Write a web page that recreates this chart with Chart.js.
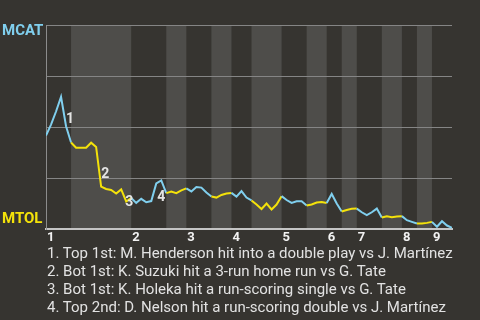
<!DOCTYPE html>
<html>
<head>
<meta charset="utf-8">
<script src="https://cdn.jsdelivr.net/npm/chart.js@4/dist/chart.umd.min.js"></script>
<style>
  html, body { margin: 0; padding: 0; background: #363430; }
  #wrap { position: relative; width: 480px; height: 320px; overflow: hidden; }
  #wpChart { position: absolute; left: 0; top: 0; }
  #notes {
    position: absolute; left: 47px; top: 244px;
    font: 15px Roboto, sans-serif; line-height: 18px; color: #e2e2e2;
    white-space: nowrap;
  }
</style>
</head>
<body>
<div id="wrap">
  <canvas id="wpChart" width="480" height="320"></canvas>
  <div id="notes"></div>
</div>
<script>
// win probability for MCAT (top of chart) after each plate appearance
const winProb = [
  45.8, 51.2, 57.6, 64.8, 50.4, 42.4, 39.8, 39.8, 39.8, 42.3,
  40.2, 20.8, 19.6, 19.1, 17.4, 19.4, 13.5, 15.2, 12.8, 14.8,
  13.1, 13.7, 22.3, 23.8, 17.6, 18.4, 17.6, 18.9, 19.9, 18.4,
  20.6, 20.3, 17.9, 15.9, 15.4, 16.7, 17.4, 17.7, 15.9, 18.6,
  15.4, 14.0, 12.0, 9.8, 12.5, 9.6, 12.0, 16.1, 14.2, 12.8,
  13.6, 13.6, 11.5, 12.0, 13.0, 13.2, 12.7, 17.2, 12.5, 8.6,
  9.3, 9.9, 10.0, 8.2, 6.8, 8.2, 10.0, 5.6, 6.2, 5.8,
  6.1, 6.3, 4.3, 3.5, 2.7, 2.7, 3.0, 3.5, 1.1, 3.8,
  1.7, 0.6
];

// plate appearance index where each half inning starts (top 1st, bot 1st, ...)
const halfStarts = [0, 5, 17, 24, 28, 33, 37, 41, 47, 52, 56, 59, 62, 67, 71, 74, 77, 81];
const innings = ['1', '2', '3', '4', '5', '6', '7', '8', '9'];

const awayTeam = 'MCAT';
const homeTeam = 'MTOL';

const eventIdx = [4, 11, 16, 23];
const eventLabels = ['1', '2', '3', '4'];
const eventNotes = [
  '1. Top 1st: M. Henderson hit into a double play vs J. Martínez',
  '2. Bot 1st: K. Suzuki hit a 3-run home run vs G. Tate',
  '3. Bot 1st: K. Holeka hit a run-scoring single vs G. Tate',
  '4. Top 2nd: D. Nelson hit a run-scoring double vs J. Martínez'
];

const BLUE = '#80cfee';
const YELLOW = '#f4e20a';

function halfOf(i) {
  let k = 0;
  while (k < halfStarts.length - 2 && halfStarts[k + 1] <= i) k++;
  return k;
}

const bandsPlugin = {
  id: 'bands',
  beforeDraw(chart) {
    const { ctx, chartArea: a, scales: { x } } = chart;
    ctx.save();
    ctx.fillStyle = '#363430';
    ctx.fillRect(0, 0, chart.width, chart.height);
    ctx.fillStyle = '#4e4d4a';
    for (let k = 1; k < halfStarts.length - 1; k += 2) {
      const x0 = x.getPixelForValue(halfStarts[k]);
      const x1 = x.getPixelForValue(halfStarts[k + 1]);
      ctx.fillRect(x0, a.top, x1 - x0, a.bottom - a.top);
    }
    ctx.restore();
  }
};

const textPlugin = {
  id: 'texts',
  afterDatasetsDraw(chart) {
    const { ctx, chartArea: a, scales: { x, y } } = chart;
    ctx.save();
    ctx.textBaseline = 'middle';
    ctx.textAlign = 'left';

    // team names
    ctx.font = 'bold 15px Roboto, sans-serif';
    ctx.fillStyle = BLUE;
    ctx.fillText(awayTeam, 2, 31);
    ctx.fillStyle = YELLOW;
    ctx.fillText(homeTeam, 2, 219);

    // inning numbers at start of each top half
    ctx.font = 'bold 13px Roboto, sans-serif';
    ctx.fillStyle = '#f2f2f2';
    innings.forEach((lab, n) => {
      ctx.fillText(lab, x.getPixelForValue(halfStarts[n * 2]) + 1, a.bottom + 9);
    });

    // event markers
    ctx.font = 'bold 14px Roboto, sans-serif';
    ctx.fillStyle = '#e4e4e4';
    const offs = [[0, -7], [0, -12], [-1, 1], [-4, 17]];
    eventIdx.forEach((i, n) => {
      const px = x.getPixelForValue(i);
      const py = y.getPixelForValue(winProb[i]);
      ctx.fillText(eventLabels[n], px + offs[n][0], py + offs[n][1]);
    });
    ctx.restore();
  }
};

document.getElementById('notes').innerHTML = eventNotes.join('<br>');

new Chart(document.getElementById('wpChart'), {
  type: 'line',
  data: {
    datasets: [{
      data: winProb.map((v, i) => ({ x: i, y: v })),
      borderColor: BLUE,
      borderWidth: 2,
      pointRadius: 0,
      tension: 0,
      segment: {
        borderColor: c => (halfOf(c.p0DataIndex) % 2 ? YELLOW : BLUE)
      }
    }]
  },
  options: {
    responsive: false,
    animation: false,
    events: [],
    layout: { padding: { left: 46, top: 25, right: 28, bottom: 91 } },
    plugins: { legend: { display: false }, tooltip: { enabled: false } },
    scales: {
      x: {
        type: 'linear',
        min: 0,
        max: halfStarts[halfStarts.length - 1],
        ticks: { display: false },
        grid: { display: false, drawTicks: false },
        border: { display: true, color: '#c4c4c4', width: 2 }
      },
      y: {
        min: 0,
        max: 100,
        ticks: { display: false, stepSize: 25 },
        grid: { color: '#858585', lineWidth: 1, drawTicks: false },
        border: { display: true, color: '#8c8c8c', width: 1 }
      }
    }
  },
  plugins: [bandsPlugin, textPlugin]
});
</script>
</body>
</html>
